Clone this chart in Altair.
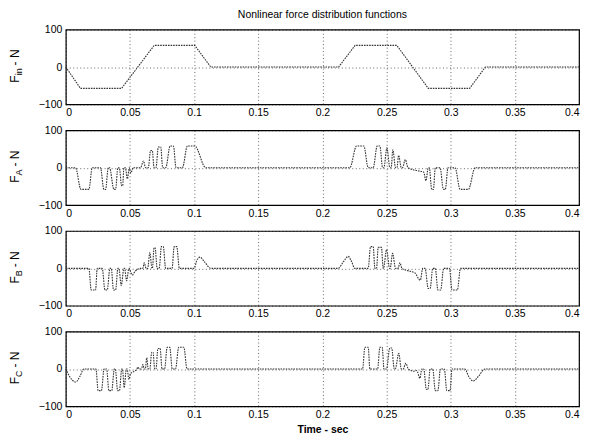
import altair as alt
import pandas as pd

FONT = "Liberation Sans"

X_TICKS = [0, 0.05, 0.1, 0.15, 0.2, 0.25, 0.3, 0.35, 0.4]
Y_TICKS = [-100, 0, 100]

# F_in : input force
FIN_T = [0, 0.0114, 0.0435, 0.0689, 0.1005, 0.113, 0.2126, 0.2255, 0.258, 0.2825, 0.3148, 0.327, 0.4]
FIN_V = [0, -57, -57, 58, 58, 0, 0, 58, 58, -57, -57, 0, 0]

# F_A
FA_T = [0, 0.0076, 0.0118, 0.0180, 0.0206,
        0.0270, 0.0297, 0.0310, 0.0331,
        0.0341, 0.0375, 0.0388, 0.0406,
        0.0417, 0.0435, 0.0443, 0.0453,
        0.0464, 0.0480, 0.0495, 0.0506, 0.0525,
        0.0583, 0.0605, 0.0622,
        0.0643, 0.0661, 0.0674, 0.0688,
        0.0703, 0.0721, 0.0740, 0.0755,
        0.0779, 0.0813, 0.0839, 0.0859,
        0.0909, 0.0948, 0.1005, 0.1091,
        0.2214, 0.2266, 0.2323, 0.2357,
        0.2396, 0.2427, 0.2448, 0.2469,
        0.2479, 0.2503, 0.2526,
        0.2536, 0.2549, 0.2570,
        0.2581, 0.2594, 0.2615,
        0.2625, 0.2646, 0.2667,
        0.2740, 0.2790, 0.2807, 0.2825,
        0.2833, 0.2852, 0.2865, 0.2880,
        0.2917, 0.2943, 0.2958, 0.2979,
        0.3034, 0.3073, 0.3138, 0.3190,
        0.4]
FA_V = [0, 0, -58, -58, 0,
        0, -58, -58, 0,
        0, -58, -58, 0,
        0, -48, -48, 0,
        0, -30, 0, -15, 0,
        0, 18, 0,
        0, 46, 46, 0,
        0, 55, 55, 0,
        0, 58, 58, 0,
        0, 58, 58, 0,
        0, 58, 58, 0,
        0, 58, 58, 0,
        0, 53, 0,
        0, 48, 0,
        0, 33, 0,
        0, 22, 0,
        -8, -12, -35, 0,
        0, -58, -58, 0,
        0, -58, -58, 0,
        0, -58, -58, 0,
        0]

# F_B
FB_T = [0, 0.0180, 0.0198, 0.0232, 0.0245,
        0.0284, 0.0305, 0.0323, 0.0344,
        0.0354, 0.0372, 0.0388, 0.0406,
        0.0414, 0.0432, 0.0453,
        0.0458, 0.0474, 0.0492,
        0.0518, 0.0540, 0.0585,
        0.0600, 0.0612, 0.0625,
        0.0638, 0.0655, 0.0672,
        0.0675, 0.0688, 0.0696, 0.0712,
        0.0728, 0.0745, 0.0760, 0.0778,
        0.0828, 0.0845, 0.0865, 0.0885,
        0.1000, 0.1020, 0.1045, 0.1080, 0.1130,
        0.2122, 0.2165, 0.2201, 0.2225, 0.2253,
        0.2357, 0.2375, 0.2396, 0.2409,
        0.2422, 0.2435, 0.2460, 0.2474,
        0.2476, 0.2500, 0.2524,
        0.2528, 0.2547, 0.2570,
        0.2590, 0.2604, 0.2620,
        0.2685, 0.2720, 0.2763, 0.2782,
        0.2800, 0.2825, 0.2840, 0.2860,
        0.2880, 0.2900, 0.2922, 0.2945,
        0.2990, 0.3010, 0.3052, 0.3076,
        0.4]
FB_V = [0, 0, -58, -58, 0,
        0, -58, -58, 0,
        0, -58, -58, 0,
        0, -46, 0,
        0, -33, 0,
        -18, -8, 0,
        0, 15, 0,
        0, 42, 0,
        0, 55, 55, 0,
        0, 58, 58, 0,
        0, 58, 58, 0,
        0, 20, 30, 18, 0,
        0, 18, 32, 20, 0,
        0, 58, 58, 0,
        0, 56, 56, 0,
        0, 50, 0,
        0, 40, 0,
        0, 15, 0,
        -8, -12, -32, 0,
        0, -54, -54, 0,
        0, -58, -58, 0,
        0, -58, -58, 0,
        0]

# F_C
FC_T = [0, 0.0030, 0.0076, 0.0110, 0.0140,
        0.0235, 0.0252, 0.0278, 0.0298,
        0.0318, 0.0336, 0.0358, 0.0378,
        0.0386, 0.0404, 0.0418, 0.0436,
        0.0442, 0.0455, 0.0472,
        0.0478, 0.0492, 0.0505, 0.0525, 0.0555,
        0.0560, 0.0575,
        0.0590, 0.0600, 0.0612,
        0.0620, 0.0631, 0.0642,
        0.0655, 0.0670, 0.0680, 0.0693,
        0.0703, 0.0718, 0.0735, 0.0750,
        0.0770, 0.0790, 0.0810, 0.0830,
        0.0855, 0.0880, 0.0920, 0.0945,
        0.2313, 0.2331, 0.2357, 0.2370,
        0.2430, 0.2448, 0.2466, 0.2480,
        0.2500, 0.2525, 0.2540, 0.2560,
        0.2568, 0.2595, 0.2615,
        0.2630, 0.2650, 0.2670,
        0.2710, 0.2735, 0.2760, 0.2775,
        0.2790, 0.2810, 0.2822, 0.2840,
        0.2860, 0.2880, 0.2900, 0.2920,
        0.2950, 0.2970, 0.2995, 0.3010,
        0.3110, 0.3140, 0.3175, 0.3220, 0.3266,
        0.4]
FC_V = [0, -20, -35, -20, 0,
        0, -58, -58, 0,
        0, -58, -58, 0,
        0, -58, -58, 0,
        0, -50, 0,
        0, -28, -12, -8, 0,
        5, 0,
        0, 12, 0,
        0, 30, 0,
        0, 45, 45, 0,
        0, 55, 55, 0,
        0, 58, 58, 0,
        0, 58, 58, 0,
        0, 58, 58, 0,
        0, 58, 58, 0,
        0, 56, 56, 0,
        0, 42, 0,
        0, 15, 0,
        -6, -4, -25, 0,
        0, -55, -55, 0,
        0, -58, -58, 0,
        0, -58, -58, 0,
        0, -20, -32, -18, 0,
        0]

SUBSCRIPTS = ["in", "A", "B", "C"]
TITLE = "Nonlinear force distribution functions"
X_TITLE = "Time - sec"

W, H = 515, 75
SUB_W = {"in": 7.0, "A": 6.0, "B": 6.0, "C": 6.5}

one_row = pd.DataFrame({"k": [0]})


def make_panel(t, v, sub, interp, last, title):
    df = pd.DataFrame({"t": t, "v": v})
    xkw = dict(values=X_TICKS, format="~g", grid=True, ticks=False, domain=False,
               labelPadding=3, labelFontSize=10.5, labelFont=FONT, labelColor="#000",
               gridDash=[1, 2.5], gridColor="#000", gridOpacity=0.75, gridWidth=0.8)
    if last:
        xkw.update(title=X_TITLE, titleFontWeight="bold", titleFontSize=10.5,
                   titleFont=FONT, titleColor="#000", titlePadding=5)
    else:
        xkw.update(title=None)
    ykw = dict(values=Y_TICKS, grid=True, ticks=False, domain=False, title=None,
               labelPadding=4, labelFontSize=10.5, labelFont=FONT, labelColor="#000",
               gridDash=[1, 2.5], gridColor="#000", gridOpacity=0.75, gridWidth=0.8)
    line = alt.Chart(df).mark_line(
        interpolate=interp, color="#333", strokeWidth=1.1, strokeDash=[1.6, 1.0]
    ).encode(
        x=alt.X("t:Q", scale=alt.Scale(domain=[0, 0.4], nice=False), axis=alt.Axis(**xkw)),
        y=alt.Y("v:Q", scale=alt.Scale(domain=[-100, 100], nice=False), axis=alt.Axis(**ykw)),
    )
    fw = 7.3
    sw = SUB_W[sub]
    total = fw + sw + 3 + 14
    y0 = H / 2 + total / 2
    xb = -47
    txt = dict(angle=270, align="left", baseline="alphabetic", font=FONT, color="#000")
    f = alt.Chart(one_row).mark_text(fontSize=12, **txt).encode(
        x=alt.value(xb), y=alt.value(y0), text=alt.value("F"))
    s = alt.Chart(one_row).mark_text(fontSize=9, **txt).encode(
        x=alt.value(xb + 3), y=alt.value(y0 - fw), text=alt.value(sub))
    n = alt.Chart(one_row).mark_text(fontSize=12, **txt).encode(
        x=alt.value(xb), y=alt.value(y0 - fw - sw - 3), text=alt.value("- N"))
    layer = alt.layer(line, f, s, n).properties(width=W, height=H)
    if title:
        layer = layer.properties(title=alt.Title(
            text=title, fontSize=10.5, fontWeight="normal", font=FONT, color="#000",
            offset=4, frame="group", anchor="middle"))
    return layer


panels = [
    make_panel(FIN_T, FIN_V, SUBSCRIPTS[0], "linear", False, TITLE),
    make_panel(FA_T, FA_V, SUBSCRIPTS[1], "monotone", False, None),
    make_panel(FB_T, FB_V, SUBSCRIPTS[2], "monotone", False, None),
    make_panel(FC_T, FC_V, SUBSCRIPTS[3], "monotone", True, None),
]

chart = alt.vconcat(*panels, spacing=5).properties(
    padding={"left": 0, "top": 0, "right": 0, "bottom": 0},
    background="white",
).configure_view(stroke="#000", strokeWidth=1.2)

chart.save("out.html", embed_options={"renderer": "svg", "actions": False})
